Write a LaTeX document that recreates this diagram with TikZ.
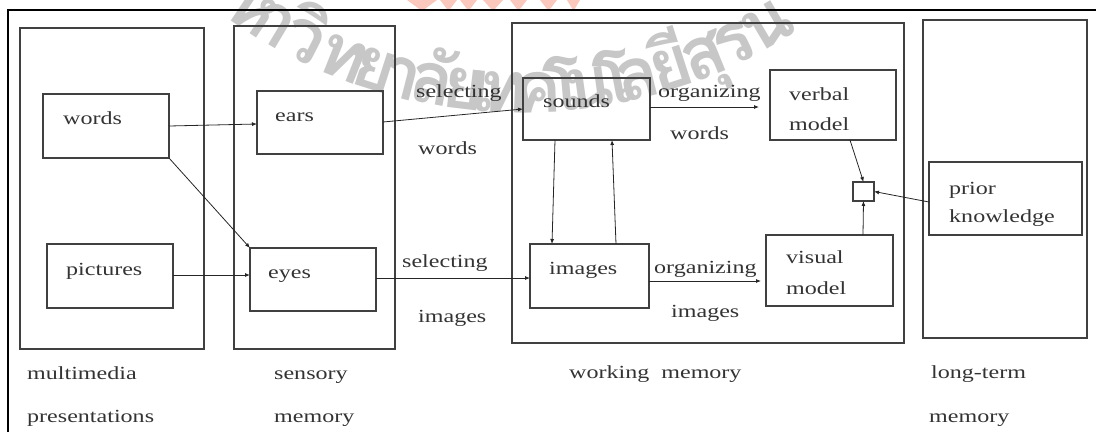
\documentclass[tikz,border=0pt]{standalone}
\usepackage{fontspec}
\setmainfont{Liberation Serif}[FakeStretch=1.3]
\newfontfamily\thaifont[Script=Thai]{Loma}
\usetikzlibrary{calc,arrows.meta}
\begin{document}
\begin{tikzpicture}[x=1pt,y=-1pt,
  frame/.style={draw=black!75, line width=1.6pt, inner sep=0pt, outer sep=0pt, anchor=north west},
  inbox/.style={draw=black!75, line width=1.4pt, inner sep=0pt, outer sep=0pt, anchor=north west},
  lbl/.style={font=\fontsize{18.5}{22}\selectfont, text=black!80, inner sep=0pt, anchor=base west},
  conn/.style={draw=black!85, line width=0.8pt, -{Latex[length=5pt,width=4pt]}},
  wmark/.style={font=\thaifont\bfseries\fontsize{72}{72}\selectfont, text=black!22, inner sep=0pt, anchor=base},
  logo/.style={fill={rgb,255:red,250;green,200;blue,188}, draw=none},
]
\useasboundingbox (0,0) rectangle (1096,432);

% watermark (logo fragment and curved Thai text)
\foreach \a/\b in {407/437, 440/457, 460/477, 483/503, 510/527, 540/557, 567/580}
  \fill[logo] (\a,0) -- (\b,0) -- ({(\a+\b)/2},11) -- cycle;
\coordinate (wc) at (522,-391);
\foreach \c/\x [count=\i] in {ห/242, า/265, วิ/295, ท/336, ย/369, า/397, ลั/428, ย/462, เ/482, ท/503, ค/539, โ/565, น/592, โ/618, ล/642, ยี/677, สุ/711, ร/742, น/777}
{
  \pgfmathsetmacro\t{asin((\x-522)/502)}
  \node[wmark, rotate=\t] (wm\i) at ($(wc)+({90-\t}:504)$) {\c};
}

% outer frame (top and left edges)
\coordinate (fa) at (8,432);
\coordinate (fb) at (8,10);
\coordinate (fc) at (1096,10);
\draw[black, line width=1.8pt] (fa) -- (fb) -- (fc);

% big column boxes
\node[frame, minimum width=184, minimum height=321] (mm) at (20,28) {};
\node[frame, minimum width=161, minimum height=323] (sens) at (234,26) {};
\node[frame, minimum width=392, minimum height=320] (wm) at (512,23) {};
\node[frame, minimum width=164, minimum height=318] (lt) at (923,20) {};

% inner boxes
\node[inbox, minimum width=126, minimum height=64] (words) at (43,94) {};
\node[inbox, minimum width=126, minimum height=63] (ears) at (257,91) {};
\node[inbox, minimum width=126, minimum height=64] (pictures) at (47,244) {};
\node[inbox, minimum width=126, minimum height=63] (eyes) at (250,248) {};
\node[inbox, minimum width=127, minimum height=62] (sounds) at (523,78) {};
\node[inbox, minimum width=119, minimum height=64] (images) at (530,244) {};
\node[inbox, minimum width=126, minimum height=70] (verbal) at (770,70) {};
\node[inbox, minimum width=127, minimum height=71] (visual) at (766,235) {};
\node[inbox, line width=1.2pt, minimum width=21, minimum height=19] (sq) at (853,182) {};
\node[inbox, minimum width=153, minimum height=73] (prior) at (929,162) {};

% texts inside boxes
\node[lbl] (twords) at (63,124) {words};
\node[lbl] (tears) at (275,121) {ears};
\node[lbl] (tpict) at (66,275) {pictures};
\node[lbl] (teyes) at (268,278) {eyes};
\node[lbl] (tsounds) at (543,107) {sounds};
\node[lbl] (timages) at (549,274) {images};
\node[lbl] (tverbal1) at (789,100) {verbal};
\node[lbl] (tverbal2) at (789,130) {model};
\node[lbl] (tvisual1) at (786,263) {visual};
\node[lbl] (tvisual2) at (786,294) {model};
\node[lbl] (tprior1) at (949,194) {prior};
\node[lbl] (tprior2) at (949,222) {knowledge};

% process labels
\node[lbl] (sel1) at (416,97) {selecting};
\node[lbl] (sel1b) at (418,154) {words};
\node[lbl] (org1) at (658,97) {organizing};
\node[lbl] (org1b) at (670,139) {words};
\node[lbl] (sel2) at (402,267) {selecting};
\node[lbl] (sel2b) at (418,322) {images};
\node[lbl] (org2) at (654,273) {organizing};
\node[lbl] (org2b) at (671,317) {images};

% column captions
\node[lbl] (c1a) at (27,379) {multimedia};
\node[lbl] (c1b) at (27,422) {presentations};
\node[lbl] (c2a) at (274,379) {sensory};
\node[lbl] (c2b) at (274,422) {memory};
\node[lbl] (c3) at (569,378) {working\ \ memory};
\node[lbl] (c4a) at (931,378) {long-term};
\node[lbl] (c4b) at (929,422) {memory};

% connectors
\draw[conn] (words.east |- 0,126) -- (ears.west |- 0,124);
\draw[conn] (words.south east) -- (eyes.north west);
\draw[conn] (pictures.east |- 0,275) -- (eyes.west |- 0,275);
\draw[conn] (ears.east |- 0,122) -- (sounds.west |- 0,109);
\draw[conn] (eyes.east |- 0,278) -- (images.west |- 0,278);
\draw[conn, shorten >=11pt] (sounds.east |- 0,107) -- (verbal.west |- 0,107);
\draw[conn, shorten >=5pt] (images.east |- 0,281) -- (visual.west |- 0,281);
\draw[conn] (sounds.south -| 555,0) -- (images.north -| 552,0);
\draw[conn] (images.north -| 616,0) -- (sounds.south -| 612,0);
\draw[conn] (verbal.south -| 850,0) -- (sq.north);
\draw[conn] (visual.north -| 863,0) -- (sq.south);
\draw[conn] (prior.west |- 0,202) -- (sq.east);
\end{tikzpicture}
\end{document}
